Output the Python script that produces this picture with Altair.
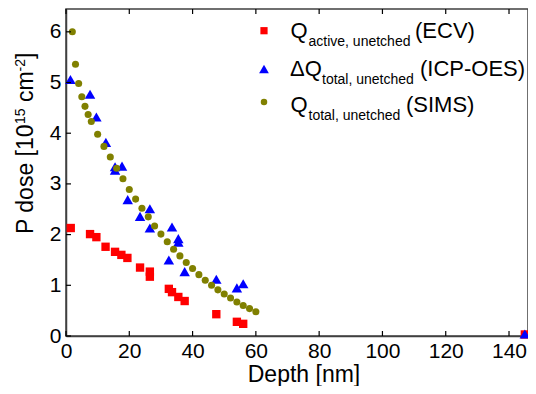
import altair as alt
import pandas as pd

FONT = "Liberation Sans"
W, H = 462, 327
XMAX, YMAX = 146, 6.45

# ---- data ----
ecv_depth = [1.5, 7.6, 9.6, 12.5, 15.5, 17.5, 19.4, 23.4, 26.5, 26.5, 32.5, 33.5,
             35.5, 37.5, 47.5, 54.0, 56.0, 145]
ecv_dose = [2.13, 2.01, 1.95, 1.76, 1.66, 1.60, 1.54, 1.35, 1.27, 1.17, 0.93, 0.865,
            0.77, 0.69, 0.43, 0.28, 0.24, 0.03]

icp_depth = [1.4, 7.6, 9.6, 12.6, 15.5, 15.5, 17.7, 19.5, 23.4, 26.5, 26.5, 32.5,
             33.5, 35.5, 35.5, 37.5, 47.5, 54.0, 56.0, 145]
icp_dose = [5.06, 4.77, 4.32, 3.82, 3.34, 3.27, 3.35, 2.69, 2.36, 2.51, 2.13, 1.50,
            2.15, 1.92, 1.85, 1.27, 1.12, 0.95, 1.03, 0.04]

sims_depth = [2, 3, 4, 5, 6, 7, 8, 10, 12, 14, 16, 18, 20, 22, 24, 26, 28, 30, 32,
              34, 36, 38, 40, 42, 44, 46, 48, 50, 52, 54, 56, 58, 60]
sims_dose = [6.00, 5.36, 4.98, 4.72, 4.53, 4.37, 4.23, 3.98, 3.74, 3.53, 3.31, 3.10,
             2.89, 2.70, 2.52, 2.35, 2.17, 2.01, 1.86, 1.71, 1.58, 1.45, 1.33, 1.21,
             1.10, 1.00, 0.91, 0.83, 0.75, 0.67, 0.60, 0.54, 0.48]

x_ticks = [0, 20, 40, 60, 80, 100, 120, 140]
y_ticks = [0, 1, 2, 3, 4, 5, 6]

RED, BLUE, OLIVE = "#ff0000", "#0000ff", "#808000"
AXIS_COL = "#404040"

x_scale = alt.Scale(domain=[0, XMAX], nice=False, zero=False)
y_scale = alt.Scale(domain=[0, YMAX], nice=False, zero=False)

x_axis = alt.Axis(values=x_ticks, title=None, ticks=False, grid=False,
                  labelFont=FONT, labelFontSize=21, labelColor="black",
                  labelPadding=4, labelFlush=False, labelOverlap=False,
                  domainColor=AXIS_COL, domainWidth=1.5)
y_axis = alt.Axis(values=y_ticks, title=None, ticks=False, grid=False,
                  labelFont=FONT, labelFontSize=21, labelColor="black",
                  labelPadding=5, labelFlush=False, labelOverlap=False,
                  domainColor=AXIS_COL, domainWidth=1.5)

X = lambda f: alt.X(f, scale=x_scale, axis=x_axis)
Y = lambda f: alt.Y(f, scale=y_scale, axis=y_axis)


def pts(depth, dose, shape, color, size):
    df = pd.DataFrame({"depth": depth, "dose": dose})
    return alt.Chart(df).mark_point(shape=shape, filled=True, color=color,
                                    opacity=1, size=size, strokeWidth=0).encode(
        x=X("depth:Q"), y=Y("dose:Q"))


ecv = pts(ecv_depth, ecv_dose, "square", RED, 70)
icp = pts(icp_depth, icp_dose, "triangle-up", BLUE, 110)
sims = pts(sims_depth, sims_dose, "circle", OLIVE, 50)

# inward ticks (positions come from the tick values through the scales)
xt = pd.DataFrame({"depth": x_ticks})
yt = pd.DataFrame({"dose": y_ticks})
tick_style = dict(color="black", size=5, thickness=1.2, opacity=1)
xb = alt.Chart(xt).mark_tick(**tick_style, orient="vertical").encode(
    x=X("depth:Q"), y=alt.value(H - 2.5))
xtop = alt.Chart(xt).mark_tick(**tick_style, orient="vertical").encode(
    x=X("depth:Q"), y=alt.value(2.5))
yl = alt.Chart(yt).mark_tick(**tick_style, orient="horizontal").encode(
    y=Y("dose:Q"), x=alt.value(2.5))


def txt(s, x, y, size, angle=0, align="left"):
    return alt.Chart(pd.DataFrame({"t": [s]})).mark_text(
        align=align, baseline="alphabetic", font=FONT, fontSize=size,
        angle=angle, color="black").encode(
        x=alt.value(x), y=alt.value(y), text="t:N")


def sym(shape, color, size, x, y):
    return alt.Chart(pd.DataFrame({"a": [0]})).mark_point(
        shape=shape, filled=True, color=color, opacity=1, size=size,
        strokeWidth=0).encode(x=alt.value(x), y=alt.value(y))


MAIN, SUB = 22, 14
legend = [
    sym("square", RED, 52, 198, 21.7),
    sym("triangle-up", BLUE, 95, 198, 60),
    sym("circle", OLIVE, 42, 198, 93),
    txt("Q", 224.5, 29, MAIN),
    txt("active, unetched", 242.5, 36.7, SUB),
    txt("(ECV)", 349, 29, MAIN),
    txt("ΔQ", 224, 66.7, MAIN),
    txt("total, unetched", 256, 74.7, SUB),
    txt("(ICP-OES)", 354, 66.7, MAIN),
    txt("Q", 224.5, 103.4, MAIN),
    txt("total, unetched", 242.5, 110.7, SUB),
    txt("(SIMS)", 340, 103.4, MAIN),
]

# axis titles
titles = [
    txt("Depth [nm]", 238, 373, 23, align="center"),
    txt("P dose [10", -33, 225, 23, angle=270),
    txt("15", -41, 115, SUB, angle=270),
    txt("cm", -33, 93, 23, angle=270),
    txt("-2", -41, 62.5, SUB, angle=270),
    txt("]", -33, 50, 23, angle=270),
]

chart = alt.layer(
    ecv, icp, sims, xb, xtop, yl, *legend, *titles
).properties(
    width=W, height=H,
    padding={"left": 58, "top": 1, "right": 0, "bottom": 50},
    autosize=alt.AutoSizeParams(type="none"),
    background="white",
).configure_view(stroke=AXIS_COL, strokeWidth=1.5)

chart.save("out.html", embed_options={"renderer": "svg", "actions": False})
